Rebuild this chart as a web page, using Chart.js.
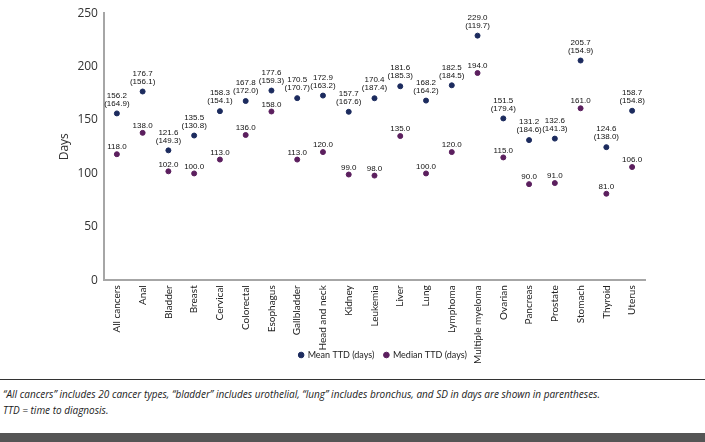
<!DOCTYPE html>
<html>
<head>
<meta charset="utf-8">
<script src="https://cdn.jsdelivr.net/npm/chart.js@4.4.1/dist/chart.umd.min.js"></script>
<style>
  html, body { margin: 0; padding: 0; background: #fff; }
  #wrap { width: 705px; height: 442px; position: relative; overflow: hidden; }
  #box { width: 705px; height: 398px; position: absolute; left: 0; top: 0; }
  #rule { position: absolute; left: 0; top: 379px; width: 705px; height: 1px; background: #333; }
  #foot { position: absolute; left: 0; top: 380px; width: 705px; height: 62px; background: #fff; }
  .note { position: absolute; left: 3px; font: italic 10px "Open Sans", sans-serif; color: #222; white-space: nowrap; }
  #bar { position: absolute; left: 0; top: 433px; width: 705px; height: 9px; background: #555; }
</style>
</head>
<body>
<div id="wrap">
  <div id="box"><canvas id="ttdChart"></canvas></div>
  <div id="foot"></div>
  <div id="rule"></div>
  <div class="note" style="top:387px">“All cancers” includes 20 cancer types, “bladder” includes urothelial, “lung” includes bronchus, and SD in days are shown in parentheses.</div>
  <div class="note" style="top:403px">TTD = time to diagnosis.</div>
  <div id="bar"></div>
</div>
<script>
    "use strict";

    // Data
    const cancerTypes = ['All cancers', 'Anal', 'Bladder', 'Breast', 'Cervical', 'Colorectal', 'Esophagus',
        'Gallbladder', 'Head and neck', 'Kidney', 'Leukemia', 'Liver', 'Lung', 'Lymphoma', 'Multiple myeloma',
        'Ovarian', 'Pancreas', 'Prostate', 'Stomach', 'Thyroid', 'Uterus'];
    const meanTTD = [156.2, 176.7, 121.6, 135.5, 158.3, 167.8, 177.6, 170.5, 172.9, 157.7, 170.4,
        181.6, 168.2, 182.5, 229.0, 151.5, 131.2, 132.6, 205.7, 124.6, 158.7];
    const meanSD = [164.9, 156.1, 149.3, 130.8, 154.1, 172.0, 159.3, 170.7, 163.2, 167.6, 187.4,
        185.3, 164.2, 184.5, 119.7, 179.4, 184.6, 141.3, 154.9, 138.0, 154.8];
    const medianTTD = [118.0, 138.0, 102.0, 100.0, 113.0, 136.0, 158.0, 113.0, 120.0, 99.0, 98.0,
        135.0, 100.0, 120.0, 194.0, 115.0, 90.0, 91.0, 161.0, 81.0, 106.0];
    const yTicks = [0, 50, 100, 150, 200, 250];

    const meanColor = '#1c2b5e';
    const medianColor = '#5b1f5e';
    const labelFont = '8px "Liberation Sans Narrow", "Arial Narrow", sans-serif';

    // Value labels above each point, legend moved up beside the long tick label
    const pointLabels = {
        id: 'pointLabels',
        afterLayout(chart) {
            const lg = chart.legend;
            const h = lg.height;
            lg.top = 355 - h / 2;
            lg.bottom = lg.top + h;
            lg.left += 32;
            lg.right += 32;
        },
        afterDatasetsDraw(chart) {
            const ctx = chart.ctx;
            ctx.save();
            ctx.font = labelFont;
            ctx.fillStyle = '#111';
            ctx.textAlign = 'center';
            ctx.textBaseline = 'middle';
            chart.getDatasetMeta(0).data.forEach((pt, i) => {
                ctx.fillText(meanTTD[i].toFixed(1), pt.x, pt.y - 18);
                ctx.fillText('(' + meanSD[i].toFixed(1) + ')', pt.x, pt.y - 10);
            });
            chart.getDatasetMeta(1).data.forEach((pt, i) => {
                ctx.fillText(medianTTD[i].toFixed(1), pt.x, pt.y - 7);
            });
            ctx.restore();
        }
    };

    new Chart(document.getElementById('ttdChart'), {
        type: 'line',
        data: {
            labels: cancerTypes,
            datasets: [{
                label: 'Mean TTD (days)',
                data: meanTTD,
                showLine: false,
                pointRadius: 2.5,
                backgroundColor: meanColor,
                borderColor: meanColor
            }, {
                label: 'Median TTD (days)',
                data: medianTTD,
                showLine: false,
                pointRadius: 2.5,
                backgroundColor: medianColor,
                borderColor: medianColor
            }]
        },
        options: {
            responsive: true,
            maintainAspectRatio: false,
            animation: false,
            layout: { padding: { top: 1, right: 60, left: 57, bottom: 0 } },
            plugins: {
                tooltip: { enabled: false },
                legend: {
                    position: 'bottom',
                    labels: {
                        usePointStyle: true,
                        pointStyle: 'circle',
                        boxWidth: 4,
                        boxHeight: 4,
                        padding: 10,
                        color: '#222',
                        font: { family: 'Lato, sans-serif', size: 9 }
                    }
                }
            },
            scales: {
                x: {
                    offset: true,
                    grid: { display: false, drawTicks: false },
                    border: { color: '#a6a6a6', width: 2 },
                    ticks: {
                        color: '#222',
                        maxRotation: 90,
                        minRotation: 90,
                        padding: 5,
                        font: { family: 'Lato, sans-serif', size: 10 }
                    }
                },
                y: {
                    min: 0,
                    max: 250,
                    afterBuildTicks: (scale) => { scale.ticks = yTicks.map(v => ({ value: v })); },
                    grid: { display: false, drawTicks: false },
                    border: { color: '#a6a6a6', width: 2 },
                    ticks: {
                        color: '#333',
                        padding: 6,
                        font: { family: '"Open Sans", sans-serif', size: 12 }
                    },
                    title: {
                        display: true,
                        text: 'Days',
                        color: '#333',
                        padding: { top: 0, bottom: 0 },
                        font: { family: '"Open Sans", sans-serif', size: 12 }
                    }
                }
            }
        },
        plugins: [pointLabels]
    });
</script>
</body>
</html>
